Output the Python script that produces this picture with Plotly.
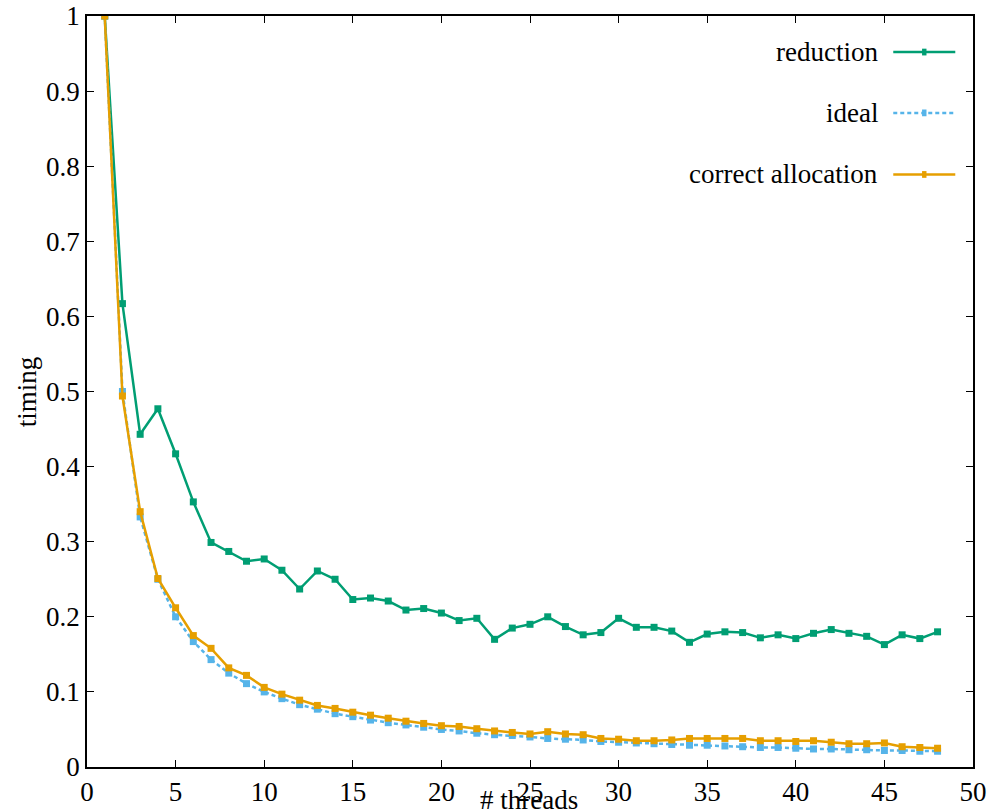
import plotly.graph_objects as go

threads = list(range(1, 49))
reduction = [1.0, 0.617, 0.443, 0.477, 0.417, 0.353, 0.299, 0.287, 0.274, 0.277,
             0.262, 0.237, 0.261, 0.250, 0.223, 0.225, 0.221, 0.209, 0.211, 0.205,
             0.195, 0.198, 0.170, 0.185, 0.190, 0.200, 0.187, 0.176, 0.179, 0.198,
             0.186, 0.186, 0.181, 0.166, 0.177, 0.180, 0.179, 0.172, 0.176, 0.171,
             0.178, 0.183, 0.178, 0.174, 0.163, 0.176, 0.171, 0.180]
ideal = [1.0, 0.5, 0.333, 0.25, 0.2, 0.167, 0.143, 0.125, 0.111, 0.1,
         0.091, 0.083, 0.077, 0.071, 0.067, 0.0625, 0.059, 0.056, 0.053, 0.05,
         0.048, 0.045, 0.043, 0.042, 0.04, 0.038, 0.037, 0.036, 0.034, 0.033,
         0.032, 0.031, 0.030, 0.029, 0.029, 0.028, 0.027, 0.026, 0.026, 0.025,
         0.024, 0.024, 0.023, 0.023, 0.022, 0.022, 0.021, 0.021]
correct = [1.0, 0.494, 0.340, 0.251, 0.212, 0.175, 0.158, 0.132, 0.122, 0.106,
           0.097, 0.089, 0.082, 0.078, 0.073, 0.069, 0.065, 0.061, 0.058, 0.055,
           0.054, 0.051, 0.048, 0.046, 0.044, 0.047, 0.044, 0.043, 0.038, 0.037,
           0.035, 0.035, 0.036, 0.038, 0.038, 0.038, 0.038, 0.035, 0.035, 0.034,
           0.035, 0.033, 0.031, 0.031, 0.032, 0.027, 0.026, 0.025]
x_ticks = [0, 5, 10, 15, 20, 25, 30, 35, 40, 45, 50]
y_ticks = [0, 0.1, 0.2, 0.3, 0.4, 0.5, 0.6, 0.7, 0.8, 0.9, 1]
y_tick_labels = ["0", "0.1", "0.2", "0.3", "0.4", "0.5", "0.6", "0.7", "0.8", "0.9", "1"]

names = ["reduction", "ideal", "correct allocation"]
colors = ["#009e73", "#56b4e9", "#e69f00"]
dashes = ["solid", "4px,3px", "solid"]
series = [reduction, ideal, correct]

FONT = "Liberation Serif, Times New Roman, serif"
FS = 27

fig = go.Figure()
for name, col, dash, ys in zip(names, colors, dashes, series):
    fig.add_trace(go.Scatter(
        x=threads, y=ys, mode="lines+markers", name=name,
        line=dict(color=col, width=2.5, dash=dash),
        marker=dict(symbol="square", size=7, color=col),
        showlegend=False,
    ))

# custom legend (text on left, sample on right)
leg_y = [0.952, 0.871, 0.789]
for name, col, dash, yy in zip(names, colors, dashes, leg_y):
    fig.add_annotation(xref="paper", yref="paper", x=0.895, y=yy, text=name,
                       showarrow=False, xanchor="right", yanchor="middle",
                       font=dict(family=FONT, size=FS, color="black"))
    fig.add_shape(type="line", xref="paper", yref="paper",
                  x0=0.910, x1=0.980, y0=yy, y1=yy,
                  line=dict(color=col, width=2.5, dash=dash))
    fig.add_shape(type="rect", xref="paper", yref="paper",
                  x0=0.9425, x1=0.9475, y0=yy - 0.0045, y1=yy + 0.0045,
                  fillcolor=col, line=dict(width=0))

axis_common = dict(
    showline=True, linecolor="black", linewidth=1.5, mirror="ticks",
    ticks="inside", ticklen=7, tickwidth=1, tickcolor="black",
    showgrid=False, zeroline=False, automargin=False,
    tickfont=dict(family=FONT, size=FS, color="black"),
)
fig.update_xaxes(range=[0, 50], tickvals=x_ticks, **axis_common)
fig.update_yaxes(range=[0, 1], tickvals=y_ticks, ticktext=y_tick_labels, **axis_common)

fig.add_annotation(xref="paper", yref="paper", x=0.499, y=-0.044, text="# threads",
                   showarrow=False, xanchor="center", yanchor="middle",
                   font=dict(family=FONT, size=FS, color="black"))
fig.add_annotation(xref="paper", yref="paper", x=-0.068, y=0.5, text="timing",
                   showarrow=False, xanchor="center", yanchor="middle", textangle=-90,
                   font=dict(family=FONT, size=FS, color="black"))

fig.update_layout(
    width=996, height=811,
    margin=dict(l=87, r=23, t=16, b=44),
    plot_bgcolor="white", paper_bgcolor="white",
    font=dict(family=FONT, size=FS, color="black"),
)
fig.write_html(
    "out.html",
    config={"displayModeBar": False},
    post_script="document.body.style.margin='0';document.body.style.overflow='hidden';",
)
